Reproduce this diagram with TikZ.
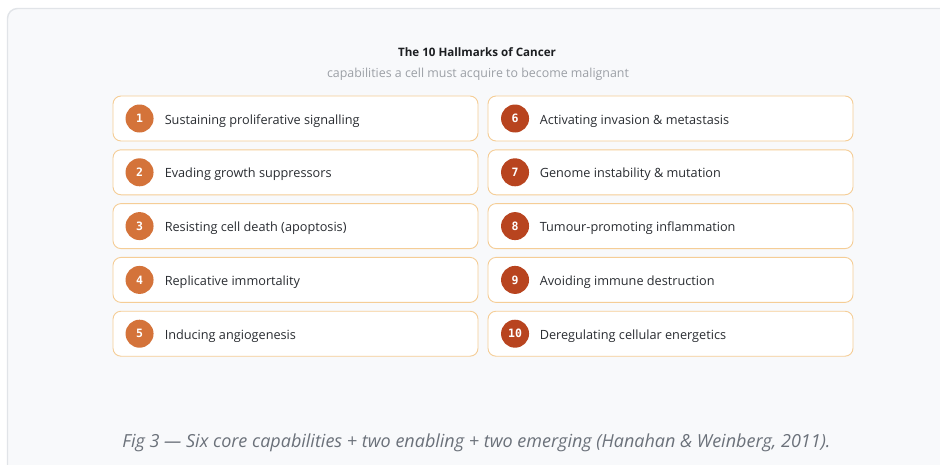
\documentclass[tikz,border=0pt]{standalone}
\usepackage{fontspec}
\setmainfont{Open Sans}
\newfontfamily\numfont{DejaVu Sans Mono}
\definecolor{panelbg}{HTML}{F8F9FB}
\definecolor{panelrule}{HTML}{E1E4E8}
\definecolor{cardrule}{HTML}{F5CD96}
\definecolor{coreorange}{HTML}{D4733A}
\definecolor{rustred}{HTML}{B8441F}
\definecolor{itemtext}{HTML}{2A2D32}
\definecolor{titletext}{HTML}{1C1E21}
\definecolor{subtext}{HTML}{9CA0A6}
\definecolor{captext}{HTML}{6B717A}
\tikzset{
  card/.style={draw=cardrule, line width=0.9pt, fill=white, rounded corners=8pt,
    minimum width=365pt, minimum height=45pt, inner sep=0pt},
  badge/.style={circle, minimum size=28pt, inner sep=0pt, text=white,
    font=\numfont\bfseries\fontsize{11.5}{12}\selectfont},
  label/.style={anchor=base west, inner sep=0pt, text=itemtext,
    font=\fontsize{12.7}{14}\selectfont},
}
\begin{document}
\begin{tikzpicture}[x=1pt, y=-1pt]
\useasboundingbox (0,0) rectangle (940,464);
% page background and the panel, which runs past the right and bottom edges
\fill[white] (0,0) rectangle (940,464);
\begin{scope}
\clip (0,0) rectangle (940,464);
\draw[panelrule, line width=1.4pt, fill=panelbg, rounded corners=10pt] (7.5,8.5) rectangle (980,500);
\end{scope}
% heading
\node[font=\bfseries\fontsize{11.6}{13}\selectfont, text=titletext, anchor=base] (title) at (477,56) {The 10 Hallmarks of Cancer};
\node[font=\fontsize{12.4}{13}\selectfont, text=subtext, anchor=base] (subtitle) at (478,77) {capabilities a cell must acquire to become malignant};
% left column
\foreach \n/\txt [count=\i from 0] in {1/Sustaining proliferative signalling, 2/Evading growth suppressors, 3/Resisting cell death (apoptosis), 4/Replicative immortality, 5/Inducing angiogenesis}{
  \node[card] (L\n) at (295.5,{118.5+53.8*\i}) {};
  \node[badge, fill=coreorange] (LB\n) at ([xshift=27pt]L\n.west) {\n};
  \node[label] (LT\n) at ([xshift=52pt, yshift=-5.5pt]L\n.west) {\txt};
}
% right column
\foreach \n/\txt [count=\i from 0] in {6/Activating invasion \& metastasis, 7/Genome instability \& mutation, 8/Tumour-promoting inflammation, 9/Avoiding immune destruction, 10/Deregulating cellular energetics}{
  \node[card] (R\n) at (670.5,{118.5+53.8*\i}) {};
  \node[badge, fill=rustred] (RB\n) at ([xshift=27.5pt]R\n.west) {\n};
  \node[label] (RT\n) at ([xshift=52pt, yshift=-5.5pt]R\n.west) {\txt};
}
% caption
\node[font=\itshape\fontsize{18}{20}\selectfont, text=captext, anchor=base] (caption) at (476.5,447) {Fig 3 — Six core capabilities + two enabling + two emerging (Hanahan \& Weinberg, 2011).};
\end{tikzpicture}
\end{document}
